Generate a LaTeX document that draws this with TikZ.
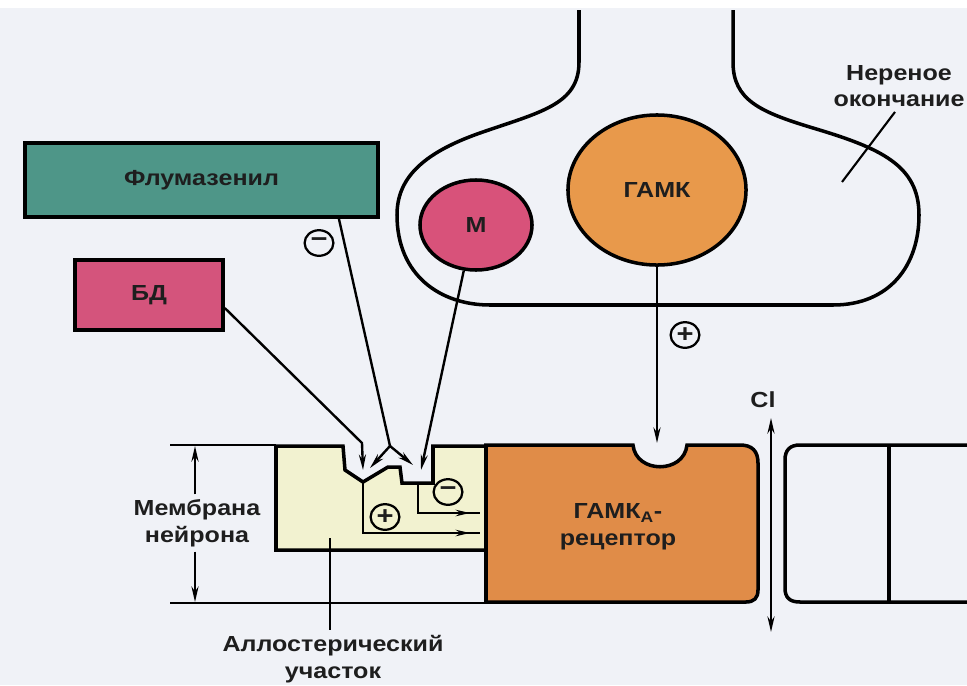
\documentclass[tikz,border=0pt]{standalone}
\usepackage{fontspec}
\setmainfont{Liberation Sans}[FakeStretch=1.15]
\usetikzlibrary{arrows.meta, positioning, calc, shapes.geometric, decorations.markings}

\definecolor{paper}{RGB}{240,242,247}
\definecolor{flumgreen}{RGB}{78,150,136}
\definecolor{bdpink}{RGB}{212,84,124}
\definecolor{mpink}{RGB}{216,82,122}
\definecolor{gabaorange}{RGB}{232,153,75}
\definecolor{recorange}{RGB}{224,140,72}
\definecolor{siteyellow}{RGB}{242,242,208}
\definecolor{inkdark}{RGB}{30,30,30}

\begin{document}
\begin{tikzpicture}[x=0.025cm, y=-0.025cm, >=Stealth,
  every node/.style={font=\fontsize{15.5}{19}\selectfont\bfseries, align=center, text=inkdark},
  drugbox/.style={draw, line width=2.5pt, inner sep=0pt},
  vesicle/.style={ellipse, draw, line width=2.5pt, inner sep=0pt},
  signmark/.style={ellipse, draw, line width=1.6pt, inner sep=0pt, minimum width=0.72cm, minimum height=0.64cm, font=\fontsize{18}{18}\selectfont\bfseries},
  outline/.style={line width=2.5pt},
  memline/.style={line width=1.5pt},
  link/.style={line width=1.7pt},
  arr/.style={link, -{Stealth[length=11pt, width=5pt]}},
  midarr/.style={link, postaction={decorate}, decoration={markings, mark=at position -0.25cm with {\arrow{Stealth[length=10pt, width=4.5pt]}}}}]
  \fill[paper] (0,0) rectangle (967,685);
  \fill[white] (0,0) rectangle (967,8);
  \useasboundingbox (0,0) rectangle (967,685);
  % nerve terminal
  \draw[outline] (579,10) -- (579,62) .. controls (579,105) and (540,112) .. (480,133)
    .. controls (420,154) and (397,180) .. (397,215) .. controls (397,275) and (440,305) .. (490,305)
    -- (833,305) .. controls (890,305) and (919,265) .. (919,215)
    .. controls (919,165) and (880,148) .. (813,128) .. controls (760,112) and (733,100) .. (733,62) -- (733,10);
  \node (termlabel) at (899,86) {Нереное\\окончание};
  \coordinate (termin) at (842,182);
  \draw[memline] (termin) -- ($(termlabel.south)+(-4,0)$);
  % drugs and mediator
  \node[drugbox, fill=flumgreen, minimum width=8.83cm, minimum height=1.85cm] (flum) at (201.5,180) {Флумазенил};
  \node[drugbox, fill=bdpink, minimum width=3.7cm, minimum height=1.75cm] (bd) at (149,295) {БД};
  \node[vesicle, fill=mpink, minimum width=2.8cm, minimum height=2.25cm] (m) at (476,225) {М};
  \node[vesicle, fill=gabaorange, minimum width=4.45cm, minimum height=3.75cm] (gaba) at (657,190) {ГАМК};
  % membrane
  \draw[memline] (170,445) -- (276,445);
  \draw[memline] (170,603) -- (487,603);
  \draw[outline, fill=siteyellow] (276,446) -- (343,446) -- (345,470) -- (363,482) coordinate (vbot)
    -- (388,467) -- (400,467) -- (402,483) -- (433,483) -- (433,446) -- (487,446) -- (487,550) -- (276,550) -- cycle;
  \draw[outline, fill=recorange] (486,445) -- (633,445) .. controls (636,474) and (684,474) .. (687,445)
    -- (740,445) .. controls (752,445) and (758,451) .. (758,463) -- (758,590)
    .. controls (758,598) and (754,602) .. (746,602) -- (486,602) -- cycle;
  \node (rec) at (618,527) {ГАМК\textsubscript{А}-\\рецептор};
  \coordinate (site) at (658,443);
  \draw[outline] (975,445) -- (800,445) .. controls (790,445) and (785,450) .. (785,460) -- (785,588)
    .. controls (785,598) and (790,602) .. (800,602) -- (975,602);
  \draw[outline] (889,445) -- (889,602);
  % labels of the membrane
  \coordinate (memtop) at (195,446);
  \coordinate (membot) at (195,602);
  \node (memlabel) at (197,523) {Мембрана\\нейрона};
  \draw[arr] (memlabel.north -| memtop) -- (memtop);
  \draw[arr] (memlabel.south -| membot) -- (membot);
  \node (allolabel) at (333,659) {Аллостерический\\участок};
  \coordinate (alloin) at (330,538);
  \draw[memline] (alloin) -- (alloin |- allolabel.north);
  % connectors
  \coordinate (fork) at (390,446);
  \coordinate (forkl) at (370,468);
  \coordinate (forkr) at (413,465);
  \draw[link] ($(flum.south east)+(-41,0)$) -- (fork);
  \draw[arr] (fork) -- (forkl);
  \draw[arr] (fork) -- (forkr);
  \coordinate (bdbend) at (362,443);
  \coordinate (bdtip) at (363,470);
  \draw[arr] ($(bd.east)+(0,13)$) -- (bdbend) -- (bdtip);
  \coordinate (mtip) at (421,470);
  \draw[arr] (m.255) -- (mtip);
  \draw[arr] (gaba.south) -- (gaba.south |- site);
  \coordinate (notchstep) at (418,483);
  \coordinate (bdout) at (480,533);
  \coordinate (mout) at (480,513);
  \draw[midarr] (vbot) |- (bdout);
  \draw[midarr] (notchstep) |- (mout);
  % signs
  \node[signmark] (flumsign) at (319,243) {−};
  \node[signmark] (gabasign) at (685,335) {+};
  \node[signmark] (bdsign) at (385,517) {+};
  \node[signmark] (msign) at (448,492) {−};
  % chloride
  \node (cl) at (763,400) {Cl};
  \coordinate (clin) at (771,418);
  \coordinate (clout) at (771,632);
  \draw[link, {Stealth[length=11pt, width=5pt]}-{Stealth[length=11pt, width=5pt]}] (clin) -- (clout);
\end{tikzpicture}
\end{document}
